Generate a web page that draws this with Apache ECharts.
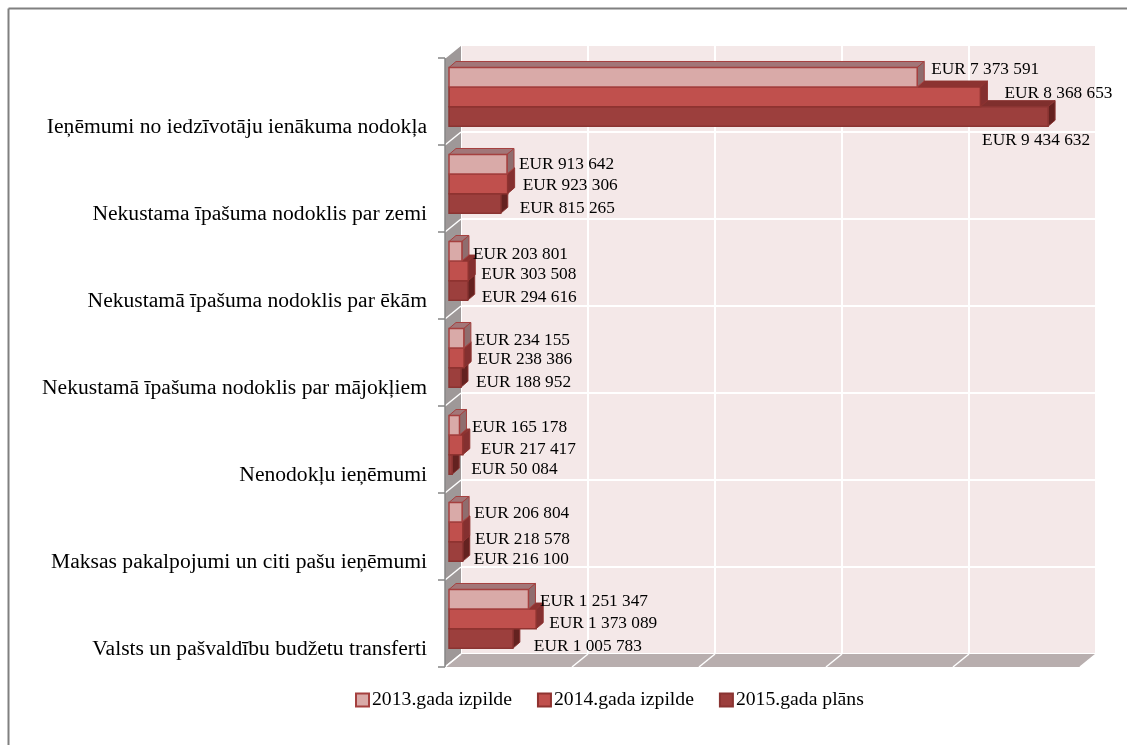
<!DOCTYPE html>
<html>
<head>
	<meta charset="utf-8">
	<title>Ieņēmumi</title>
	<style>html,body{margin:0;padding:0;background:#fff}</style>
	<script src="https://cdn.jsdelivr.net/npm/echarts@6/dist/echarts.min.js"></script>
</head>
<body>
<div style="width:1127px;height:745px;" id="chart"></div>
<script>
var categories = ['Ieņēmumi no iedzīvotāju ienākuma nodokļa','Nekustama īpašuma nodoklis par zemi','Nekustamā īpašuma nodoklis par ēkām','Nekustamā īpašuma nodoklis par mājokļiem','Nenodokļu ieņēmumi','Maksas pakalpojumi un citi pašu ieņēmumi','Valsts un pašvaldību budžetu transferti'];
var names = ['2013.gada izpilde','2014.gada izpilde','2015.gada plāns'];
var izpilde2013 = [7373591,913642,203801,234155,165178,206804,1251347];
var izpilde2014 = [8368653,923306,303508,238386,217417,218578,1373089];
var plans2015 = [9434632,815265,294616,188952,50084,216100,1005783];
var xTicks = [0,2000000,4000000,6000000,8000000,10000000];

// krāsas: priekša, mala, augša, sāns
var faces = [
	{front:'#d9aaa8', line:'#a5403f', top:'#a27678', side:'#8f6d6e'},
	{front:'#c0504d', line:'#8f3330', top:'#8c3331', side:'#843030'},
	{front:'#9c3f3d', line:'#8a3432', top:'#7f2f2d', side:'#642220'}
];
// uzrakstu nobīde no stabiņa gala, kā oriģinālā
var labelShift = [
	[[14,-8],[12,0],[11,3],[11,2],[12.5,2],[12,1],[11.5,2]],
	[[24,-3],[15,2],[13,3.5],[13,2],[18,5],[12,8],[13,4.5]],
	[[-66,24],[19,5],[14,7],[15,5],[19,5],[11,8],[21,8]]
];
var frontX = -16, frontY = 13;      // sienas priekšējā mala pret aizmugurējo
var barX = -12, barY = 9;           // stabiņa priekšpuse pret sienu
var depthX = 7, depthY = -6;

function money(v){
	return 'EUR ' + String(v).replace(/\B(?=(\d{3})+$)/g,' ');
}

function renderFrame(params, api){
	var kids = [];
	var h = api.size([0,1])[1];
	var x0 = api.coord([0,0])[0];
	var x1 = api.coord([10000000,0])[0];
	var yTop = api.coord([0,0])[1] - h/2;
	var yBot = yTop + h*categories.length;
	kids.push({type:'polygon', shape:{points:[[x0,yTop],[x0+frontX,yTop+frontY],[x0+frontX,yBot+frontY],[x0,yBot]]}, style:{fill:'#9e9898'}});
	kids.push({type:'polygon', shape:{points:[[x0,yBot],[x1,yBot],[x1+frontX,yBot+frontY],[x0+frontX,yBot+frontY]]}, style:{fill:'#b8aeae'}});
	for(var i=0;i<=categories.length;i++){
		var y = yTop + h*i;
		kids.push({type:'line', shape:{x1:x0,y1:y,x2:x0+frontX,y2:y+frontY}, style:{stroke:'#fff',lineWidth:1.5}});
		kids.push({type:'line', shape:{x1:x0+frontX-7,y1:y+frontY,x2:x0+frontX,y2:y+frontY}, style:{stroke:'#868686',lineWidth:1.5}});
	}
	xTicks.forEach(function(t){
		var x = api.coord([t,0])[0];
		kids.push({type:'line', shape:{x1:x,y1:yBot,x2:x+frontX,y2:yBot+frontY}, style:{stroke:'#fff',lineWidth:1.5}});
	});
	kids.push({type:'line', shape:{x1:x0+frontX,y1:yTop+frontY,x2:x0+frontX,y2:yBot+frontY}, style:{stroke:'#868686',lineWidth:1.5}});
	return {type:'group', children:kids};
}

function barRenderer(s){
	return function(params, api){
		var f = faces[s];
		var i = api.value(1);
		var p0 = api.coord([0,i]);
		var p1 = api.coord([api.value(0),i]);
		var band = api.size([0,1])[1];
		var bh = band*0.225;
		var x = p0[0]+barX;
		var y = p0[1]+barY-band/2*0.69+bh*s;
		var r = p1[0]+barX;
		var shift = labelShift[s][i];
		return {type:'group', children:[
			{type:'polygon', shape:{points:[[x,y],[x+depthX,y+depthY],[r+depthX,y+depthY],[r,y]]}, style:{fill:f.top,stroke:f.line,lineWidth:1}},
			{type:'polygon', shape:{points:[[r,y],[r+depthX,y+depthY],[r+depthX,y+bh+depthY],[r,y+bh]]}, style:{fill:f.side,stroke:f.line,lineWidth:1}},
			{type:'rect', shape:{x:x,y:y,width:r-x,height:bh}, style:{fill:f.front,stroke:f.line,lineWidth:1.5}},
			{type:'text', z2:50, style:{x:r+shift[0],y:y+bh/2+shift[1],text:money(api.value(0)),fill:'#000',font:'17.3px "Liberation Serif"',verticalAlign:'middle',align:'left'}}
		]};
	};
}

function barSeries(s, values){
	return {
		name:names[s], type:'custom', clip:false, z:7-s,
		renderItem:barRenderer(s),
		encode:{x:0,y:1},
		itemStyle:{color:faces[s].front,borderColor:faces[s].line,borderWidth:2},
		data:values.map(function(v,i){return [v,i];})
	};
}

var chart = echarts.init(document.getElementById('chart'));
chart.setOption({
	animation:false,
	backgroundColor:'#fff',
	grid:{left:461,top:45,width:635,height:609,show:true,backgroundColor:'#f4e8e8',borderWidth:0},
	xAxis:{type:'value',min:0,max:10000000,interval:2000000,
		axisLabel:{show:false},axisLine:{show:false},axisTick:{show:false},
		splitLine:{show:true,lineStyle:{color:'#fff',width:2}}},
	yAxis:{type:'category',inverse:true,data:categories,
		axisLine:{show:false},axisTick:{show:false},
		splitLine:{show:true,interval:0,lineStyle:{color:'#fff',width:2}},
		axisLabel:{interval:0,margin:34,
			formatter:function(v){return '{a|'+v+'}';},
			rich:{a:{color:'#000',fontFamily:'"Liberation Serif"',fontSize:21.6,padding:[77,0,0,0]}}}},
	legend:{data:names,left:350,top:685,itemWidth:13,itemHeight:13,itemGap:25,icon:'rect',
		textStyle:{fontFamily:'"Liberation Serif"',fontSize:19.7,color:'#000',padding:[0,0,0,-2]}},
	graphic:[
		{type:'line',shape:{x1:8.5,y1:745,x2:8.5,y2:8.5},style:{stroke:'#808080',lineWidth:2}},
		{type:'line',shape:{x1:8.5,y1:8.5,x2:1127,y2:8.5},style:{stroke:'#808080',lineWidth:2}}
	],
	series:[
		{type:'custom',clip:false,silent:true,z:1,renderItem:renderFrame,encode:{x:0,y:1},data:[[0,0]]},
		barSeries(0,izpilde2013),
		barSeries(1,izpilde2014),
		barSeries(2,plans2015)
	]
});
</script>
</body>
</html>
